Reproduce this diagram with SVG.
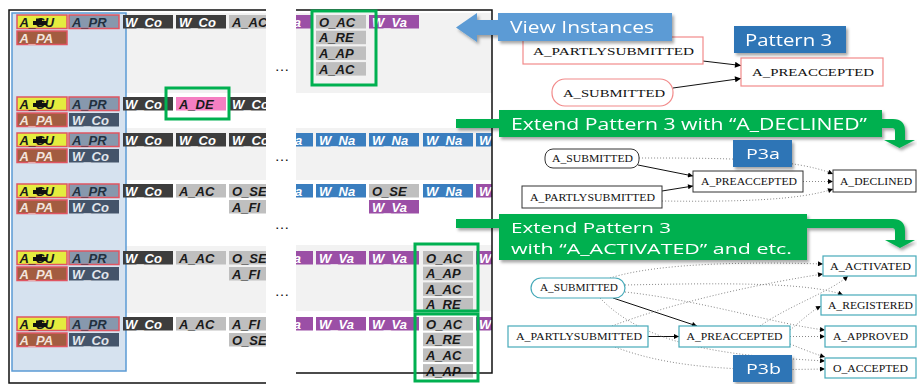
<svg xmlns="http://www.w3.org/2000/svg" width="917" height="384" viewBox="0 0 917 384">
<defs>
<style>
.ct{font-family:"Liberation Sans",Arial,sans-serif;font-size:13px;font-weight:bold;font-style:italic}
.w{fill:#fff}
.k{fill:#1a1a1a}
.pt{fill:#f3e4dc}
.prt{fill:#22303f}
.wst{fill:#e2e6ec}
.su{fill:#e4ec3f;stroke:#e05562;stroke-width:1.5}
.pa{fill:#a35c40;stroke:#e05562;stroke-width:1.5}
.pr{fill:#8798ad;stroke:#e05562;stroke-width:1.5}
.wd{fill:#3d3d3d}
.ws{fill:#44546a}
.g{fill:#bfbfbf}
.pk{fill:#f57fc2}
.bl{fill:#3a7ebf}
.pu{fill:#9b4fa6}
.hl{fill:none;stroke:#00b050;stroke-width:3}
.row{fill:#f2f2f2}
.frame{fill:none;stroke:#111;stroke-width:1.5}
.dots{font-family:"Liberation Sans",Arial,sans-serif;font-size:15px;fill:#111;text-anchor:middle}
.gv{font-family:"Liberation Serif","Times New Roman",serif;fill:#111;text-anchor:middle}
.f1{font-size:11px}
.f2{font-size:9.5px}
.n1{fill:#fff;stroke:#f28a8a;stroke-width:1.2}
.n2{fill:#fff;stroke:#333;stroke-width:1}
.n3{fill:#fff;stroke:#47aab9;stroke-width:1.2}
.e{fill:none;stroke:#111;stroke-width:1}
.d{fill:none;stroke:#888;stroke-width:1;stroke-dasharray:1 2}
.co{font-family:"Open Sans","Liberation Sans",sans-serif;fill:#fff}
.grn{fill:#00b050}
.dblue{fill:#2e75b6}
</style>
<clipPath id="clipL"><rect x="9" y="0" width="257" height="384"/></clipPath>
<clipPath id="clipR"><rect x="296" y="0" width="196" height="384"/></clipPath>
<path id="blob" d="M0,2.5h3v-2.5h6v2.5h5v4h-14z" fill="#111"/>
<marker id="ah" viewBox="0 0 10 10" refX="10" refY="5" markerWidth="9" markerHeight="6" markerUnits="userSpaceOnUse" orient="auto"><path d="M0,0L10,5L0,10z" fill="#000"/></marker>
<marker id="as" viewBox="0 0 10 10" refX="10" refY="5" markerWidth="8" markerHeight="5" markerUnits="userSpaceOnUse" orient="auto"><path d="M0,0L10,5L0,10z" fill="#000"/></marker>
<filter id="sh" x="-10%" y="-20%" width="130%" height="160%"><feDropShadow dx="2" dy="2.5" stdDeviation="1.5" flood-color="#000" flood-opacity="0.35"/></filter>
</defs>

<rect width="917" height="384" fill="#fff"/>

<!-- Left trace panel -->
<g id="trace-panel">
<g clip-path="url(#clipL)">
<rect class="row" x="12" y="13" width="254" height="80"/>
<rect class="row" x="12" y="128" width="254" height="52"/>
<rect class="row" x="12" y="246" width="254" height="67"/>
<rect x="12" y="13" width="114" height="358" fill="#d6e2ef" stroke="#5b9bd5" stroke-width="1.5"/>

<g id="trace1">
<rect class="su" x="17" y="15" width="50" height="13.5"/><text class="ct k" x="19.5" y="26.5">A_SU</text><use href="#blob" x="33" y="18.5"/>
<rect class="pa" x="17" y="31" width="50" height="13.5"/><text class="ct pt" x="19.5" y="42.5">A_PA</text>
<rect class="pr" x="69" y="15" width="50" height="13.5"/><text class="ct prt" x="72" y="26.5">A_PR</text>
<rect class="wd" x="123" y="15" width="50" height="13.5"/><text class="ct w" x="125" y="26.5">W_Co</text>
<rect class="wd" x="176" y="15" width="50" height="13.5"/><text class="ct w" x="179" y="26.5">W_Co</text>
<rect class="g" x="229" y="15" width="50" height="13.5"/><text class="ct k" x="232" y="26.5">A_AC</text>
</g>

<g id="trace2">
<rect class="su" x="17" y="97" width="50" height="13.5"/><text class="ct k" x="19.5" y="108.5">A_SU</text><use href="#blob" x="33" y="100.5"/>
<rect class="pa" x="17" y="113" width="50" height="13.5"/><text class="ct pt" x="19.5" y="124.5">A_PA</text>
<rect class="pr" x="69" y="97" width="50" height="13.5"/><text class="ct prt" x="72" y="108.5">A_PR</text>
<rect class="ws" x="69" y="113" width="50" height="13.5"/><text class="ct wst" x="72" y="124.5">W_Co</text>
<rect class="wd" x="123" y="97" width="50" height="13.5"/><text class="ct w" x="125" y="108.5">W_Co</text>
<rect class="pk" x="176" y="97" width="50" height="13.5"/><text class="ct k" x="179" y="108.5">A_DE</text>
<rect class="wd" x="229" y="97" width="50" height="13.5"/><text class="ct w" x="232" y="108.5">W_Co</text>
</g>

<g id="trace3">
<rect class="su" x="17" y="133" width="50" height="13.5"/><text class="ct k" x="19.5" y="144.5">A_SU</text><use href="#blob" x="33" y="136.5"/>
<rect class="pa" x="17" y="149" width="50" height="13.5"/><text class="ct pt" x="19.5" y="160.5">A_PA</text>
<rect class="pr" x="69" y="133" width="50" height="13.5"/><text class="ct prt" x="72" y="144.5">A_PR</text>
<rect class="ws" x="69" y="149" width="50" height="13.5"/><text class="ct wst" x="72" y="160.5">W_Co</text>
<rect class="wd" x="123" y="133" width="50" height="13.5"/><text class="ct w" x="125" y="144.5">W_Co</text>
<rect class="wd" x="176" y="133" width="50" height="13.5"/><text class="ct w" x="179" y="144.5">W_Co</text>
<rect class="wd" x="229" y="133" width="50" height="13.5"/><text class="ct w" x="232" y="144.5">W_Co</text>
</g>

<g id="trace4">
<rect class="su" x="17" y="184" width="50" height="13.5"/><text class="ct k" x="19.5" y="195.5">A_SU</text><use href="#blob" x="33" y="187.5"/>
<rect class="pa" x="17" y="200" width="50" height="13.5"/><text class="ct pt" x="19.5" y="211.5">A_PA</text>
<rect class="pr" x="69" y="184" width="50" height="13.5"/><text class="ct prt" x="72" y="195.5">A_PR</text>
<rect class="ws" x="69" y="200" width="50" height="13.5"/><text class="ct wst" x="72" y="211.5">W_Co</text>
<rect class="wd" x="123" y="184" width="50" height="13.5"/><text class="ct w" x="125" y="195.5">W_Co</text>
<rect class="g" x="176" y="184" width="50" height="13.5"/><text class="ct k" x="179" y="195.5">A_AC</text>
<rect class="g" x="229" y="184" width="50" height="13.5"/><text class="ct k" x="232" y="195.5">O_SE</text>
<rect class="g" x="229" y="200" width="50" height="13.5"/><text class="ct k" x="232" y="211.5">A_FI</text>
</g>

<g id="trace5">
<rect class="su" x="17" y="251" width="50" height="13.5"/><text class="ct k" x="19.5" y="262.5">A_SU</text><use href="#blob" x="33" y="254.5"/>
<rect class="pa" x="17" y="267" width="50" height="13.5"/><text class="ct pt" x="19.5" y="278.5">A_PA</text>
<rect class="pr" x="69" y="251" width="50" height="13.5"/><text class="ct prt" x="72" y="262.5">A_PR</text>
<rect class="ws" x="69" y="267" width="50" height="13.5"/><text class="ct wst" x="72" y="278.5">W_Co</text>
<rect class="wd" x="123" y="251" width="50" height="13.5"/><text class="ct w" x="125" y="262.5">W_Co</text>
<rect class="g" x="176" y="251" width="50" height="13.5"/><text class="ct k" x="179" y="262.5">A_AC</text>
<rect class="g" x="229" y="251" width="50" height="13.5"/><text class="ct k" x="232" y="262.5">O_SE</text>
<rect class="g" x="229" y="267" width="50" height="13.5"/><text class="ct k" x="232" y="278.5">A_FI</text>
</g>

<g id="trace6">
<rect class="su" x="17" y="317" width="50" height="13.5"/><text class="ct k" x="19.5" y="328.5">A_SU</text><use href="#blob" x="33" y="320.5"/>
<rect class="pa" x="17" y="333" width="50" height="13.5"/><text class="ct pt" x="19.5" y="344.5">A_PA</text>
<rect class="pr" x="69" y="317" width="50" height="13.5"/><text class="ct prt" x="72" y="328.5">A_PR</text>
<rect class="ws" x="69" y="333" width="50" height="13.5"/><text class="ct wst" x="72" y="344.5">W_Co</text>
<rect class="wd" x="123" y="317" width="50" height="13.5"/><text class="ct w" x="125" y="328.5">W_Co</text>
<rect class="g" x="176" y="317" width="50" height="13.5"/><text class="ct k" x="179" y="328.5">A_AC</text>
<rect class="g" x="229" y="317" width="50" height="13.5"/><text class="ct k" x="232" y="328.5">A_FI</text>
<rect class="g" x="229" y="333" width="50" height="13.5"/><text class="ct k" x="232" y="344.5">O_SE</text>
</g>
</g>
<path class="frame" d="M266,10H9V383H266"/>
<rect class="hl" x="166" y="88" width="63" height="31"/>

<text class="dots" x="282" y="71">…</text>
<text class="dots" x="282" y="161">…</text>
<text class="dots" x="282" y="229">…</text>
<text class="dots" x="282" y="296">…</text>

<g clip-path="url(#clipR)">
<rect class="row" x="296" y="13" width="196" height="80"/>
<rect class="row" x="296" y="128" width="196" height="52"/>
<rect class="row" x="296" y="245" width="196" height="66"/>

<g id="trace1-end">
<rect class="pu" x="263" y="15" width="50" height="13.5"/><text class="ct w" x="266" y="26.5">W_Va</text>
<rect class="g" x="316" y="15" width="50" height="13.5"/><text class="ct k" x="319" y="26.5">O_AC</text>
<rect class="g" x="316" y="30.7" width="50" height="13.5"/><text class="ct k" x="319" y="42.2">A_RE</text>
<rect class="g" x="316" y="46.4" width="50" height="13.5"/><text class="ct k" x="319" y="57.9">A_AP</text>
<rect class="g" x="316" y="62.1" width="50" height="13.5"/><text class="ct k" x="319" y="73.6">A_AC</text>
<rect class="pu" x="369" y="15" width="50" height="13.5"/><text class="ct w" x="372" y="26.5">W_Va</text>
</g>

<g id="trace3-end">
<rect class="bl" x="263" y="133" width="50" height="13.5"/><text class="ct w" x="266" y="144.5">W_Na</text>
<rect class="bl" x="316" y="133" width="50" height="13.5"/><text class="ct w" x="319" y="144.5">W_Na</text>
<rect class="bl" x="369" y="133" width="50" height="13.5"/><text class="ct w" x="372" y="144.5">W_Na</text>
<rect class="bl" x="423" y="133" width="50" height="13.5"/><text class="ct w" x="426" y="144.5">W_Na</text>
<rect class="bl" x="476" y="133" width="50" height="13.5"/><text class="ct w" x="479" y="144.5">W_Na</text>
</g>

<g id="trace4-end">
<rect class="bl" x="263" y="184" width="50" height="13.5"/><text class="ct w" x="266" y="195.5">W_Na</text>
<rect class="bl" x="316" y="184" width="50" height="13.5"/><text class="ct w" x="319" y="195.5">W_Na</text>
<rect class="g" x="369" y="184" width="50" height="13.5"/><text class="ct k" x="372" y="195.5">O_SE</text>
<rect class="pu" x="369" y="200" width="50" height="13.5"/><text class="ct w" x="372" y="211.5">W_Va</text>
<rect class="bl" x="423" y="184" width="50" height="13.5"/><text class="ct w" x="426" y="195.5">W_Na</text>
<rect class="pu" x="476" y="184" width="50" height="13.5"/><text class="ct w" x="479" y="195.5">W_Va</text>
</g>

<g id="trace5-end">
<rect class="pu" x="263" y="251" width="50" height="13.5"/><text class="ct w" x="266" y="262.5">W_Va</text>
<rect class="pu" x="316" y="251" width="50" height="13.5"/><text class="ct w" x="319" y="262.5">W_Va</text>
<rect class="pu" x="369" y="251" width="50" height="13.5"/><text class="ct w" x="372" y="262.5">W_Va</text>
<rect class="g" x="423" y="251" width="50" height="13.5"/><text class="ct k" x="426" y="262.5">O_AC</text>
<rect class="g" x="423" y="266.7" width="50" height="13.5"/><text class="ct k" x="426" y="278.2">A_AP</text>
<rect class="g" x="423" y="282.4" width="50" height="13.5"/><text class="ct k" x="426" y="293.9">A_AC</text>
<rect class="g" x="423" y="298" width="50" height="13"/><text class="ct k" x="426" y="309.3">A_RE</text>
<rect class="pu" x="476" y="251" width="50" height="13.5"/><text class="ct w" x="479" y="262.5">W_Va</text>
</g>

<g id="trace6-end">
<rect class="pu" x="263" y="317" width="50" height="13.5"/><text class="ct w" x="266" y="328.5">W_Va</text>
<rect class="pu" x="316" y="317" width="50" height="13.5"/><text class="ct w" x="319" y="328.5">W_Va</text>
<rect class="pu" x="369" y="317" width="50" height="13.5"/><text class="ct w" x="372" y="328.5">W_Va</text>
<rect class="g" x="423" y="317" width="50" height="13.5"/><text class="ct k" x="426" y="328.5">O_AC</text>
<rect class="g" x="423" y="332.7" width="50" height="13.5"/><text class="ct k" x="426" y="344.2">A_RE</text>
<rect class="g" x="423" y="348.4" width="50" height="13.5"/><text class="ct k" x="426" y="359.9">A_AC</text>
<rect class="g" x="423" y="364.1" width="50" height="13.5"/><text class="ct k" x="426" y="375.6">A_AP</text>
<rect class="pu" x="476" y="317" width="50" height="13.5"/><text class="ct w" x="479" y="328.5">W_Va</text>
</g>
</g>
<path class="frame" d="M296,10H492V373H296"/>
<rect class="hl" x="312" y="11" width="64" height="74"/>
<rect class="hl" x="415" y="244" width="63" height="67"/>
<rect class="hl" x="415" y="314" width="63" height="67"/>
</g>

<!-- Connectors -->
<g id="connectors">
<path class="e" d="M703,61L741,65.5" marker-end="url(#ah)"/>
<path class="e" d="M673,88L741,78.5" marker-end="url(#ah)"/>

<path class="e" d="M638,165L693,176" marker-end="url(#as)"/>
<path class="e" d="M662,191L693,186" marker-end="url(#as)"/>
<path class="d" d="M639,158C720,158 795,158 833,174" marker-end="url(#as)"/>
<path class="d" d="M803,181.5L833,181.5" marker-end="url(#as)"/>
<path class="d" d="M662,201C740,202 800,200 833,189" marker-end="url(#as)"/>

<path class="e" d="M613,298L697,326" marker-end="url(#as)"/>
<path class="e" d="M648,336.5L679,336.5" marker-end="url(#as)"/>
<path class="d" d="M610,278C660,262 760,262 823,264" marker-end="url(#as)"/>
<path class="d" d="M612,326C680,300 770,282 823,274" marker-end="url(#as)"/>
<path class="d" d="M760,326C790,305 830,292 848,276" marker-end="url(#as)"/>
<path class="d" d="M625,285C720,283 810,282 843,295" marker-end="url(#as)"/>
<path class="d" d="M790,330C800,322 810,312 821,306" marker-end="url(#as)"/>
<path class="d" d="M625,292C700,300 780,325 825,330" marker-end="url(#as)"/>
<path class="d" d="M790,336.5L825,336.5" marker-end="url(#as)"/>
<path class="d" d="M600,298C650,350 740,356 825,361" marker-end="url(#as)"/>
<path class="d" d="M615,347C680,372 760,370 825,369" marker-end="url(#as)"/>
<path class="d" d="M790,344C805,350 815,354 825,357" marker-end="url(#as)"/>
</g>

<!-- Pattern 3 graph -->
<g id="p3-partly"><rect class="n1" x="523" y="37" width="180" height="27"/><text class="gv f1" x="613.5" y="55" textLength="161" lengthAdjust="spacingAndGlyphs">A_PARTLYSUBMITTED</text></g>
<g id="p3-pre"><rect class="n1" x="741" y="58" width="142" height="28"/><text class="gv f1" x="813" y="76" textLength="122" lengthAdjust="spacingAndGlyphs">A_PREACCEPTED</text></g>
<g id="p3-sub"><rect class="n1" x="552" y="79" width="121" height="27" rx="13"/><text class="gv f1" x="614" y="96.5" textLength="102" lengthAdjust="spacingAndGlyphs">A_SUBMITTED</text></g>

<!-- P3a graph -->
<g id="p3a-sub"><rect class="n2" x="545" y="149" width="94" height="19" rx="8"/><text class="gv f2" x="592.5" y="162" textLength="81" lengthAdjust="spacingAndGlyphs">A_SUBMITTED</text></g>
<g id="p3a-pre"><rect class="n2" x="693" y="171" width="110" height="21"/><text class="gv f2" x="749" y="185" textLength="96" lengthAdjust="spacingAndGlyphs">A_PREACCEPTED</text></g>
<g id="p3a-partly"><rect class="n2" x="522" y="186" width="140" height="22"/><text class="gv f2" x="592.5" y="200.5" textLength="125" lengthAdjust="spacingAndGlyphs">A_PARTLYSUBMITTED</text></g>
<g id="p3a-declined"><rect class="n2" x="833" y="170" width="83" height="22"/><text class="gv f2" x="876" y="184.5" textLength="72" lengthAdjust="spacingAndGlyphs">A_DECLINED</text></g>

<!-- P3b graph -->
<g id="p3b-sub"><rect class="n3" x="531" y="278" width="94" height="20" rx="10"/><text class="gv f2" x="579" y="291" textLength="78" lengthAdjust="spacingAndGlyphs">A_SUBMITTED</text></g>
<g id="p3b-partly"><rect class="n3" x="508" y="326" width="140" height="21"/><text class="gv f2" x="579" y="340" textLength="126" lengthAdjust="spacingAndGlyphs">A_PARTLYSUBMITTED</text></g>
<g id="p3b-pre"><rect class="n3" x="679" y="326" width="111" height="21"/><text class="gv f2" x="734.5" y="340" textLength="96" lengthAdjust="spacingAndGlyphs">A_PREACCEPTED</text></g>
<g id="p3b-act"><rect class="n3" x="823" y="256" width="93" height="20"/><text class="gv f2" x="870.5" y="269.5" textLength="81" lengthAdjust="spacingAndGlyphs">A_ACTIVATED</text></g>
<g id="p3b-reg"><rect class="n3" x="821" y="295" width="95" height="20"/><text class="gv f2" x="870.5" y="308.5" textLength="85" lengthAdjust="spacingAndGlyphs">A_REGISTERED</text></g>
<g id="p3b-app"><rect class="n3" x="825" y="326" width="91" height="21"/><text class="gv f2" x="870.5" y="340" textLength="75" lengthAdjust="spacingAndGlyphs">A_APPROVED</text></g>
<g id="p3b-oacc"><rect class="n3" x="825" y="358" width="91" height="20"/><text class="gv f2" x="870.5" y="371.5" textLength="75" lengthAdjust="spacingAndGlyphs">O_ACCEPTED</text></g>

<!-- Callouts -->
<g id="view-instances" filter="url(#sh)">
<path d="M456,27.5L477,13V20H498V13H672V41H498V35H477V42Z" fill="#5b9bd5"/>
<text class="co" x="510" y="32.5" font-size="16.5" textLength="144" lengthAdjust="spacingAndGlyphs">View Instances</text>
</g>
<g id="pattern3-label" filter="url(#sh)">
<rect class="dblue" x="734" y="26" width="112" height="27"/>
<text class="co" x="745" y="45.5" font-size="16.5" textLength="87" lengthAdjust="spacingAndGlyphs">Pattern 3</text>
</g>

<g id="extend-declined" filter="url(#sh)">
<path class="grn" d="M456,119H893Q905,119 905,131V141H895V131Q895,128 892,128H456Z"/>
<path class="grn" d="M884,140H915L899.5,148Z"/>
<rect class="grn" x="499" y="110" width="383" height="27"/>
<text class="co" x="511" y="130" font-size="16.5" textLength="356" lengthAdjust="spacingAndGlyphs">Extend Pattern 3 with “A_DECLINED”</text>
</g>
<g id="p3a-label" filter="url(#sh)">
<rect class="dblue" x="733" y="140" width="59" height="27"/>
<text class="co" x="746" y="158.5" font-size="15" textLength="34" lengthAdjust="spacingAndGlyphs">P3a</text>
</g>

<g id="extend-activated" filter="url(#sh)">
<path class="grn" d="M456,219H893Q905,219 905,231V241H895V231Q895,228 892,228H456Z"/>
<path class="grn" d="M885,240H915L900,248Z"/>
<rect class="grn" x="499" y="214" width="308" height="46"/>
<text class="co" x="511" y="233" font-size="14.6" textLength="160" lengthAdjust="spacingAndGlyphs">Extend Pattern 3</text>
<text class="co" x="511" y="253.5" font-size="14.6" textLength="281" lengthAdjust="spacingAndGlyphs">with “A_ACTIVATED” and etc.</text>
</g>
<g id="p3b-label" filter="url(#sh)">
<rect class="dblue" x="733" y="355" width="59" height="27"/>
<text class="co" x="746" y="373.5" font-size="15" textLength="35" lengthAdjust="spacingAndGlyphs">P3b</text>
</g>
</svg>
